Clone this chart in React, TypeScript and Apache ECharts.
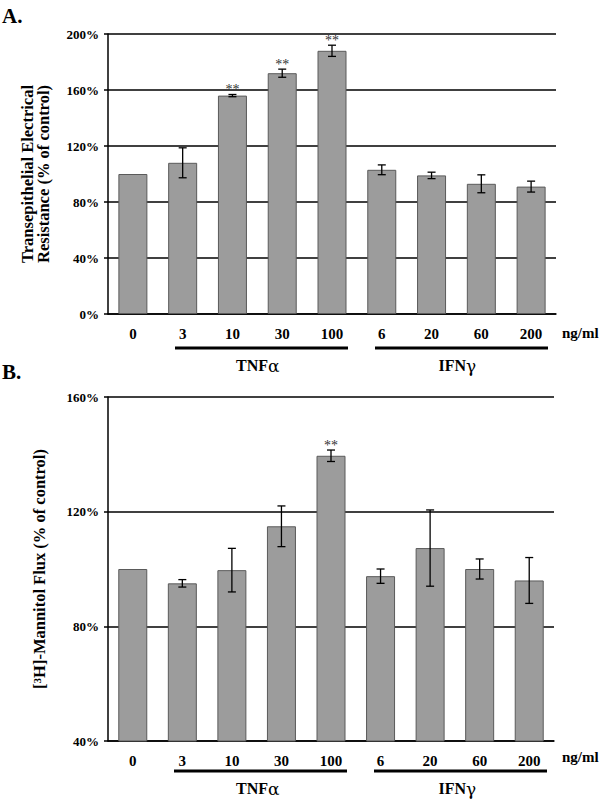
import React, { useEffect, useRef } from "react";
import * as echarts from "echarts";

const categories = ["0", "3", "10", "30", "100", "6", "20", "60", "200"];
const teerMean = [100, 108, 156, 172, 188, 103, 99, 93, 91];
const teerErr = [0, 10.7, 0.8, 2.9, 4, 3.5, 2.3, 6.4, 3.9];
const teerSig = ["", "", "**", "**", "**", "", "", "", ""];
const fluxMean = [100, 95, 99.6, 114.9, 139.5, 97.5, 107.3, 100, 96];
const fluxErr = [0, 1.3, 7.6, 7.1, 2, 2.5, 13.3, 3.5, 8];
const fluxSig = ["", "", "", "", "**", "", "", "", ""];
const teerTicks = { min: 0, max: 200, interval: 40 };
const fluxTicks = { min: 40, max: 160, interval: 40 };

const SERIF = "'Liberation Serif', 'Times New Roman', serif";

function errSeries(idx: number, mean: number[], err: number[], sig: string[]) {
  return {
    type: "custom",
    xAxisIndex: idx,
    yAxisIndex: idx,
    z: 5,
    clip: false,
    encode: { x: 0, y: 1 },
    data: mean.map((m, i) => [i, m, err[i]]),
    renderItem: (params: any, api: any) => {
      const i = api.value(0);
      const m = api.value(1);
      const e = api.value(2);
      const hi = api.coord([i, m + e]);
      const lo = api.coord([i, m - e]);
      const children: any[] = [];
      const ls = { stroke: "#000", lineWidth: 1.3 };
      if (e > 0) {
        children.push({ type: "line", shape: { x1: hi[0], y1: hi[1], x2: lo[0], y2: lo[1] }, style: ls });
        children.push({ type: "line", shape: { x1: hi[0] - 4, y1: hi[1], x2: hi[0] + 4, y2: hi[1] }, style: ls });
        children.push({ type: "line", shape: { x1: lo[0] - 4, y1: lo[1], x2: lo[0] + 4, y2: lo[1] }, style: ls });
      }
      const s = sig[params.dataIndex];
      if (s) {
        children.push({
          type: "text",
          style: {
            text: s,
            x: hi[0],
            y: hi[1] + 2,
            align: "center",
            verticalAlign: "bottom",
            fontSize: 14,
            fontFamily: SERIF,
            fill: "#333",
          },
        });
      }
      return { type: "group", children };
    },
  };
}

export default function App() {
  const ref = useRef<HTMLDivElement>(null);
  useEffect(() => {
    const chart = echarts.init(ref.current!, null, { renderer: "svg" });
    const xAxisBase = (gridIndex: number) => ({
      type: "category",
      gridIndex,
      data: categories,
      axisLine: { lineStyle: { color: "#000", width: 1.5 } },
      axisTick: { show: false },
      axisLabel: { color: "#000", fontSize: 15, fontWeight: "bold", fontFamily: SERIF, margin: 12 },
    });
    const yAxisBase = (gridIndex: number, t: any, name: any, nameGap: number, rich?: any) => ({
      type: "value",
      gridIndex,
      min: t.min,
      max: t.max,
      interval: t.interval,
      name,
      nameLocation: "middle",
      nameRotate: 90,
      nameGap,
      nameTextStyle: {
        color: "#000",
        fontSize: 16.5,
        fontWeight: "bold",
        fontFamily: SERIF,
        lineHeight: 16,
        rich,
      },
      axisLine: { show: true, lineStyle: { color: "#000", width: 1.5 } },
      axisTick: { show: true, length: 4, lineStyle: { color: "#000", width: 1.5 } },
      axisLabel: {
        color: "#000",
        fontSize: 13,
        fontWeight: "bold",
        fontFamily: SERIF,
        margin: 9,
        formatter: (v: number) => v + "%",
      },
      splitLine: { show: true, lineStyle: { color: "#000", width: 1.5 } },
    });
    const barSeries = (idx: number, data: number[]) => ({
      type: "bar",
      xAxisIndex: idx,
      yAxisIndex: idx,
      data,
      barWidth: 29,
      itemStyle: { color: "#9c9c9c", borderColor: "#5a5a5a", borderWidth: 1 },
      z: 3,
    });
    const txt = (x: number, y: number, text: string, size: number, align = "left", weight = "bold", family = SERIF) => ({
      type: "text",
      x,
      y,
      style: {
        text,
        align,
        verticalAlign: "middle",
        fontSize: size,
        fontWeight: weight,
        fontFamily: family,
        fill: "#000",
      },
    });
    const group = (cx: number, y: number, a: string, b: string) => [
      txt(cx + 6, y, a, 16, "right"),
      txt(cx + 6, y + 1, b, 17, "left", "normal", "'DejaVu Serif', serif"),
    ];
    const bar = (x1: number, x2: number, y: number) => ({
      type: "line",
      shape: { x1, y1: y, x2, y2: y },
      style: { stroke: "#000", lineWidth: 3 },
    });
    chart.setOption({
      animation: false,
      grid: [
        { left: 108, top: 34, width: 448, height: 280 },
        { left: 108, top: 397, width: 446, height: 344 },
      ],
      xAxis: [xAxisBase(0), xAxisBase(1)],
      yAxis: [
        yAxisBase(0, teerTicks, "Transepithelial Electrical\nResistance (% of control)", 57),
        yAxisBase(1, fluxTicks, "[{sup|3}H]-Mannitol Flux (% of control)", 61, {
          sup: { fontSize: 11, fontWeight: "bold", fontFamily: SERIF, verticalAlign: "top", color: "#000" },
        }),
      ],
      series: [
        barSeries(0, teerMean),
        errSeries(0, teerMean, teerErr, teerSig),
        barSeries(1, fluxMean),
        errSeries(1, fluxMean, fluxErr, fluxSig),
      ],
      graphic: [
        txt(2, 16, "A.", 21),
        txt(2, 372, "B.", 21),
        txt(562, 333, "ng/ml", 15),
        txt(562, 757, "ng/ml", 15),
        ...group(262, 365, "TNF", "α"),
        ...group(460, 365, "IFN", "γ"),
        ...group(262, 788, "TNF", "α"),
        ...group(460, 788, "IFN", "γ"),
        bar(175, 348, 348),
        bar(375, 548, 348),
        bar(174, 347, 771),
        bar(374, 547, 771),
      ],
    });
    return () => chart.dispose();
  }, []);
  return (
    <div
      ref={ref}
      style={{ position: "absolute", left: 0, top: 0, width: 600, height: 799, background: "#fff" }}
    />
  );
}
